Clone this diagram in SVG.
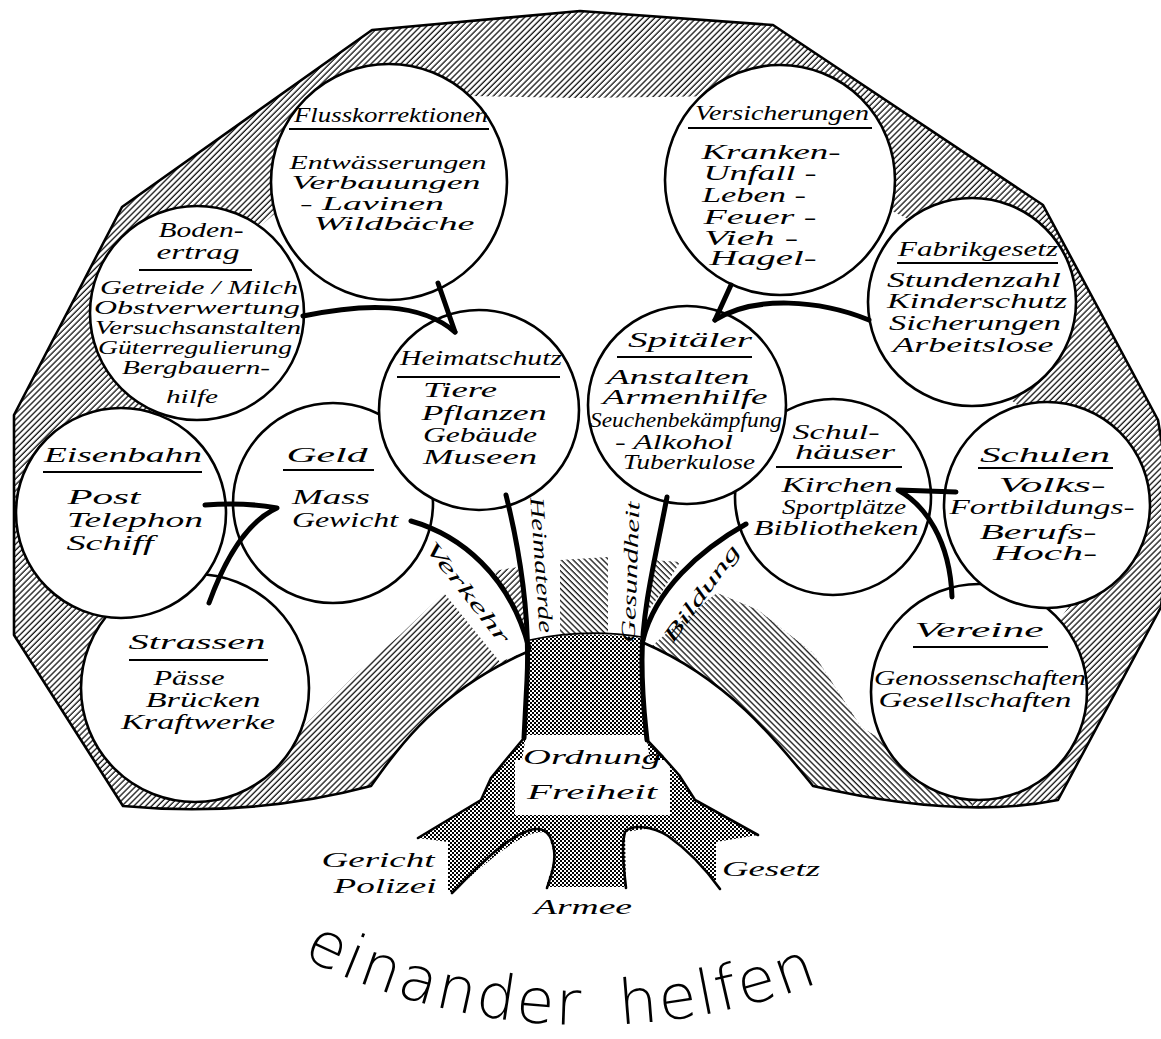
<svg xmlns="http://www.w3.org/2000/svg" width="1161" height="1039" viewBox="0 0 1161 1039">
<defs>
<pattern id="hatch" patternUnits="userSpaceOnUse" width="4.2" height="10" patternTransform="rotate(45)"><rect width="4.2" height="10" fill="#fff"/><line x1="1" y1="0" x2="1" y2="10" stroke="#000" stroke-width="1.2"/></pattern>
<pattern id="hatch2" patternUnits="userSpaceOnUse" width="4.2" height="10" patternTransform="rotate(-45)"><rect width="4.2" height="10" fill="#fff"/><line x1="1" y1="0" x2="1" y2="10" stroke="#000" stroke-width="1.2"/></pattern>
<pattern id="checker" patternUnits="userSpaceOnUse" width="4" height="4"><rect width="4" height="4" fill="#fff"/><rect width="2" height="2" fill="#000"/><rect x="2" y="2" width="2" height="2" fill="#000"/></pattern>
<path id="arc" d="M 285 948.2 A 640 640 0 0 0 850 969.4" fill="none"/>
<style>
.c{fill:#fff;stroke:#000;stroke-width:2.6}
.t{font-family:"Liberation Serif","DejaVu Serif",serif;font-style:italic;font-size:20px;fill:#000;text-anchor:middle}
.s{font-size:18.5px}
.u{stroke:#000;stroke-width:2.2;fill:none}
.k{fill:none;stroke:#000;stroke-width:5;stroke-linecap:round;stroke-linejoin:round}
.o{fill:none;stroke:#000;stroke-width:2.6;stroke-linejoin:round;stroke-linecap:round}
.w{fill:#fff;stroke:none}
</style>
</defs>
<rect width="1161" height="1039" fill="#fff"/>

<g id="crown">
<path fill="url(#hatch)" d="M 372 30 L 580 11 L 773 25 L 1043 205 L 1158 420 L 1172 505 L 1161 607 L 1058 800 Q 960 820 813 786 C 780 745, 730 680, 644 643 L 527 652 C 440 690, 400 745, 371 786 Q 250 818 123 806 L 14 635 L 14 415 L 122 207 Z"/>
<path class="w" d="M 418 95 L 580 98 L 729 96 L 880 205 L 930 230 L 999 272 L 1011 400 L 1075 450 L 1090 505 L 1085 585 L 1000 700 L 890 745 L 861 727 L 813 653 L 758 610 L 717 593 L 668 632 L 652 646 L 525 652 L 500 662 L 444 593 L 400 635 L 357 673 L 303 727 L 250 690 L 150 600 L 100 470 L 160 415 L 150 300 L 200 260 L 258 228 L 285 205 Z"/>
<path fill="url(#hatch2)" d="M 644 643 C 730 680, 780 745, 813 786 L 883 799 L 948 806 L 972 807 L 972 700 L 890 745 L 861 727 L 813 653 L 758 610 L 717 593 L 668 632 L 652 646 Z"/>
<path fill="url(#hatch2)" d="M 560 560 L 608 557 L 608 634 L 560 636 Z"/>
<path fill="url(#hatch)" d="M 494 571 L 518 567 L 525 600 L 528 640 L 509 600 Z"/>
<path fill="url(#hatch2)" d="M 652 560 L 680 562 L 662 592 L 647 612 Z"/>
<path id="outline" class="o" d="M 644 643 C 730 680, 780 745, 813 786 Q 960 820 1058 800 L 1161 607 L 1172 505 L 1158 420 L 1043 205 L 773 25 L 580 11 L 372 30 L 122 207 L 14 415 L 14 635 L 123 806 Q 250 818 371 786 C 400 745, 440 690, 527 652"/>
</g>

<g id="trunk">
<path fill="url(#checker)" d="M 530 640 Q 585 630 642 638 L 645 700 L 647 740 L 663 757 L 679 775 L 695 800 L 758 835 L 716 842 L 716 887 L 720 888 C 700 862, 680 836, 652 828 L 625 832 L 626 887 L 546 887 L 555 857 L 548 833 C 530 828, 505 845, 452 893 L 448 890 L 448 842 L 418 838 L 481 800 L 491 778 L 509 756 L 524 738 L 526 700 Z"/>
<path class="w" d="M 526 735 L 646 735 L 650 760 L 670 760 L 670 815 L 515 815 L 515 760 L 522 760 Z"/>
<path class="o" d="M 530 640 Q 585 628 642 637" style="stroke-width:1.6"/>
<path class="o" d="M 524 738 L 509 756 L 491 778 L 481 800 L 418 838"/>
<path class="o" d="M 647 740 L 663 757 L 679 775 L 695 800 L 758 835"/>
<path class="o" d="M 452 893 C 480 865, 505 838, 530 830 C 545 826, 552 835, 554 850 C 556 865, 550 878, 547 888"/>
<path class="o" d="M 626 888 C 624 870, 621 845, 625 832 C 632 824, 652 826, 668 836 C 685 848, 705 868, 720 889"/>
<text class="t" x="592" y="764" textLength="138" lengthAdjust="spacingAndGlyphs">Ordnung</text>
<text class="t" x="592" y="799" textLength="130" lengthAdjust="spacingAndGlyphs">Freiheit</text>
<text class="t" x="378" y="867" textLength="113" lengthAdjust="spacingAndGlyphs">Gericht</text>
<text class="t" x="385" y="893" textLength="103" lengthAdjust="spacingAndGlyphs">Polizei</text>
<text class="t" x="583" y="914" textLength="98" lengthAdjust="spacingAndGlyphs">Armee</text>
<text class="t" x="771" y="876" textLength="98" lengthAdjust="spacingAndGlyphs">Gesetz</text>
</g>

<g id="node-flusskorrektionen">
<circle class="c" cx="389" cy="182" r="118"/>
<text class="t" x="391" y="122" textLength="194" lengthAdjust="spacingAndGlyphs">Flusskorrektionen</text>
<line class="u" x1="289" y1="129" x2="489" y2="129"/>
<text class="t s" x="388" y="169" textLength="197" lengthAdjust="spacingAndGlyphs">Entwässerungen</text>
<text class="t s" x="386" y="189" textLength="189" lengthAdjust="spacingAndGlyphs">Verbauungen</text>
<text class="t s" x="372" y="210" textLength="144" lengthAdjust="spacingAndGlyphs">- Lavinen</text>
<text class="t s" x="394" y="230" textLength="161" lengthAdjust="spacingAndGlyphs">Wildbäche</text>
</g>

<g id="node-versicherungen">
<circle class="c" cx="780" cy="180" r="115"/>
<text class="t" x="782" y="120" textLength="174" lengthAdjust="spacingAndGlyphs">Versicherungen</text>
<line class="u" x1="688" y1="128" x2="872" y2="128"/>
<text class="t" x="771" y="159" textLength="139" lengthAdjust="spacingAndGlyphs">Kranken-</text>
<text class="t" x="760" y="180" textLength="113" lengthAdjust="spacingAndGlyphs">Unfall -</text>
<text class="t" x="754" y="202" textLength="104" lengthAdjust="spacingAndGlyphs">Leben -</text>
<text class="t" x="760" y="224" textLength="113" lengthAdjust="spacingAndGlyphs">Feuer -</text>
<text class="t" x="751" y="245" textLength="94" lengthAdjust="spacingAndGlyphs">Vieh -</text>
<text class="t" x="763" y="265" textLength="107" lengthAdjust="spacingAndGlyphs">Hagel-</text>
</g>

<g id="node-bodenertrag">
<circle class="c" cx="197" cy="313" r="107"/>
<text class="t" x="201" y="237" textLength="85" lengthAdjust="spacingAndGlyphs">Boden-</text>
<text class="t" x="198" y="259" textLength="83" lengthAdjust="spacingAndGlyphs">ertrag</text>
<line class="u" x1="139" y1="270" x2="252" y2="270"/>
<text class="t s" x="199" y="294" textLength="198" lengthAdjust="spacingAndGlyphs">Getreide / Milch</text>
<text class="t s" x="197" y="314" textLength="206" lengthAdjust="spacingAndGlyphs">Obstverwertung</text>
<text class="t s" x="198" y="334" textLength="206" lengthAdjust="spacingAndGlyphs">Versuchsanstalten</text>
<text class="t s" x="195" y="354" textLength="194" lengthAdjust="spacingAndGlyphs">Güterregulierung</text>
<text class="t s" x="196" y="374" textLength="148" lengthAdjust="spacingAndGlyphs">Bergbauern-</text>
<text class="t s" x="192" y="403" textLength="52" lengthAdjust="spacingAndGlyphs">hilfe</text>
</g>

<g id="node-fabrikgesetz">
<circle class="c" cx="972" cy="302" r="104"/>
<text class="t" x="978" y="256" textLength="160" lengthAdjust="spacingAndGlyphs">Fabrikgesetz</text>
<line class="u" x1="897" y1="263" x2="1058" y2="263"/>
<text class="t" x="974" y="287" textLength="174" lengthAdjust="spacingAndGlyphs">Stundenzahl</text>
<text class="t" x="977" y="308" textLength="180" lengthAdjust="spacingAndGlyphs">Kinderschutz</text>
<text class="t" x="975" y="330" textLength="172" lengthAdjust="spacingAndGlyphs">Sicherungen</text>
<text class="t" x="973" y="352" textLength="161" lengthAdjust="spacingAndGlyphs">Arbeitslose</text>
</g>

<g id="node-strassen">
<circle class="c" cx="195" cy="688" r="114"/>
<text class="t" x="197" y="649" textLength="137" lengthAdjust="spacingAndGlyphs">Strassen</text>
<line class="u" x1="129" y1="660" x2="268" y2="660"/>
<text class="t" x="189" y="685" textLength="71" lengthAdjust="spacingAndGlyphs">Pässe</text>
<text class="t" x="203" y="707" textLength="115" lengthAdjust="spacingAndGlyphs">Brücken</text>
<text class="t" x="198" y="729" textLength="154" lengthAdjust="spacingAndGlyphs">Kraftwerke</text>
</g>

<g id="node-eisenbahn">
<circle class="c" cx="121" cy="513" r="105"/>
<text class="t" x="123" y="462" textLength="158" lengthAdjust="spacingAndGlyphs">Eisenbahn</text>
<line class="u" x1="43" y1="472" x2="202" y2="472"/>
<text class="t" x="104" y="504" textLength="73" lengthAdjust="spacingAndGlyphs">Post</text>
<text class="t" x="135" y="527" textLength="136" lengthAdjust="spacingAndGlyphs">Telephon</text>
<text class="t" x="110" y="550" textLength="87" lengthAdjust="spacingAndGlyphs">Schiff</text>
</g>

<g id="node-geld">
<circle class="c" cx="333" cy="503" r="100"/>
<text class="t" x="327" y="462" textLength="81" lengthAdjust="spacingAndGlyphs">Geld</text>
<line class="u" x1="283" y1="470" x2="374" y2="470"/>
<text class="t" x="331" y="504" textLength="78" lengthAdjust="spacingAndGlyphs">Mass</text>
<text class="t" x="345" y="527" textLength="106" lengthAdjust="spacingAndGlyphs">Gewicht</text>
</g>

<g id="node-heimatschutz">
<circle class="c" cx="479" cy="410" r="100"/>
<text class="t" x="481" y="365" textLength="162" lengthAdjust="spacingAndGlyphs">Heimatschutz</text>
<line class="u" x1="397" y1="377" x2="560" y2="377"/>
<text class="t" x="460" y="397" textLength="74" lengthAdjust="spacingAndGlyphs">Tiere</text>
<text class="t" x="484" y="420" textLength="125" lengthAdjust="spacingAndGlyphs">Pflanzen</text>
<text class="t" x="480" y="442" textLength="114" lengthAdjust="spacingAndGlyphs">Gebäude</text>
<text class="t" x="480" y="464" textLength="114" lengthAdjust="spacingAndGlyphs">Museen</text>
</g>

<g id="node-schulhaeuser">
<circle class="c" cx="833" cy="497" r="98"/>
<text class="t" x="836" y="439" textLength="87" lengthAdjust="spacingAndGlyphs">Schul-</text>
<text class="t" x="845" y="459" textLength="100" lengthAdjust="spacingAndGlyphs">häuser</text>
<line class="u" x1="776" y1="467" x2="902" y2="467"/>
<text class="t" x="837" y="492" textLength="111" lengthAdjust="spacingAndGlyphs">Kirchen</text>
<text class="t" x="844" y="514" textLength="124" lengthAdjust="spacingAndGlyphs">Sportplätze</text>
<text class="t" x="836" y="535" textLength="165" lengthAdjust="spacingAndGlyphs">Bibliotheken</text>
</g>

<g id="node-spitaeler">
<circle class="c" cx="687" cy="405" r="99"/>
<text class="t" x="690" y="347" textLength="124" lengthAdjust="spacingAndGlyphs">Spitäler</text>
<line class="u" x1="617" y1="357" x2="752" y2="357"/>
<text class="t" x="678" y="384" textLength="143" lengthAdjust="spacingAndGlyphs">Anstalten</text>
<text class="t" x="685" y="404" textLength="165" lengthAdjust="spacingAndGlyphs">Armenhilfe</text>
<text class="t" x="686" y="427" textLength="192" lengthAdjust="spacingAndGlyphs">Seuchenbekämpfung</text>
<text class="t" x="674" y="449" textLength="118" lengthAdjust="spacingAndGlyphs">- Alkohol</text>
<text class="t" x="689" y="469" textLength="132" lengthAdjust="spacingAndGlyphs">Tuberkulose</text>
</g>

<g id="node-vereine">
<circle class="c" cx="979" cy="692" r="108"/>
<text class="t" x="979" y="637" textLength="129" lengthAdjust="spacingAndGlyphs">Vereine</text>
<line class="u" x1="913" y1="647" x2="1048" y2="647"/>
<text class="t" x="980" y="685" textLength="212" lengthAdjust="spacingAndGlyphs">Genossenschaften</text>
<text class="t" x="975" y="707" textLength="193" lengthAdjust="spacingAndGlyphs">Gesellschaften</text>
</g>

<g id="node-schulen">
<circle class="c" cx="1047" cy="505" r="103"/>
<text class="t" x="1045" y="462" textLength="130" lengthAdjust="spacingAndGlyphs">Schulen</text>
<line class="u" x1="978" y1="468" x2="1113" y2="468"/>
<text class="t" x="1052" y="492" textLength="107" lengthAdjust="spacingAndGlyphs">Volks-</text>
<text class="t" x="1042" y="514" textLength="185" lengthAdjust="spacingAndGlyphs">Fortbildungs-</text>
<text class="t" x="1038" y="539" textLength="117" lengthAdjust="spacingAndGlyphs">Berufs-</text>
<text class="t" x="1045" y="560" textLength="104" lengthAdjust="spacingAndGlyphs">Hoch-</text>
</g>

<g id="connectors">
<path class="k" d="M 438 283 L 455 332"/>
<path class="k" d="M 303 316 C 365 303, 420 302, 455 332"/>
<path class="k" d="M 731 285 L 715 320"/>
<path class="k" d="M 869 320 C 820 300, 755 295, 715 320"/>
<path class="k" d="M 205 505 C 230 503, 255 504, 277 508 C 255 518, 230 545, 209 603"/>
<path class="k" d="M 411 521 C 460 535, 510 575, 529 648"/>
<path class="k" d="M 506 495 C 522 560, 530 620, 527 680 L 524 738"/>
<path class="k" d="M 667 497 C 655 560, 642 610, 642 660 C 642 700, 645 720, 647 740"/>
<path class="k" d="M 746 524 C 700 550, 655 590, 643 640"/>
<path class="k" d="M 956 492 L 898 490 C 925 505, 950 540, 952 597"/>
</g>

<g id="branch-labels">
<text class="t" transform="translate(468,592) rotate(52)" x="0" y="7" textLength="124" lengthAdjust="spacingAndGlyphs">Verkehr</text>
<text class="t" transform="translate(542,565) rotate(86)" x="0" y="7" textLength="136" lengthAdjust="spacingAndGlyphs">Heimaterde</text>
<text class="t" transform="translate(630,572) rotate(-88)" x="0" y="7" textLength="141" lengthAdjust="spacingAndGlyphs">Gesundheit</text>
<text class="t" transform="translate(701,593) rotate(-54)" x="0" y="7" textLength="115" lengthAdjust="spacingAndGlyphs">Bildung</text>
</g>

<text id="motto" font-family="DejaVu Sans, sans-serif" font-weight="200" font-size="62" letter-spacing="2" word-spacing="16" fill="#000"><textPath href="#arc" startOffset="19">einander helfen</textPath></text>
</svg>
